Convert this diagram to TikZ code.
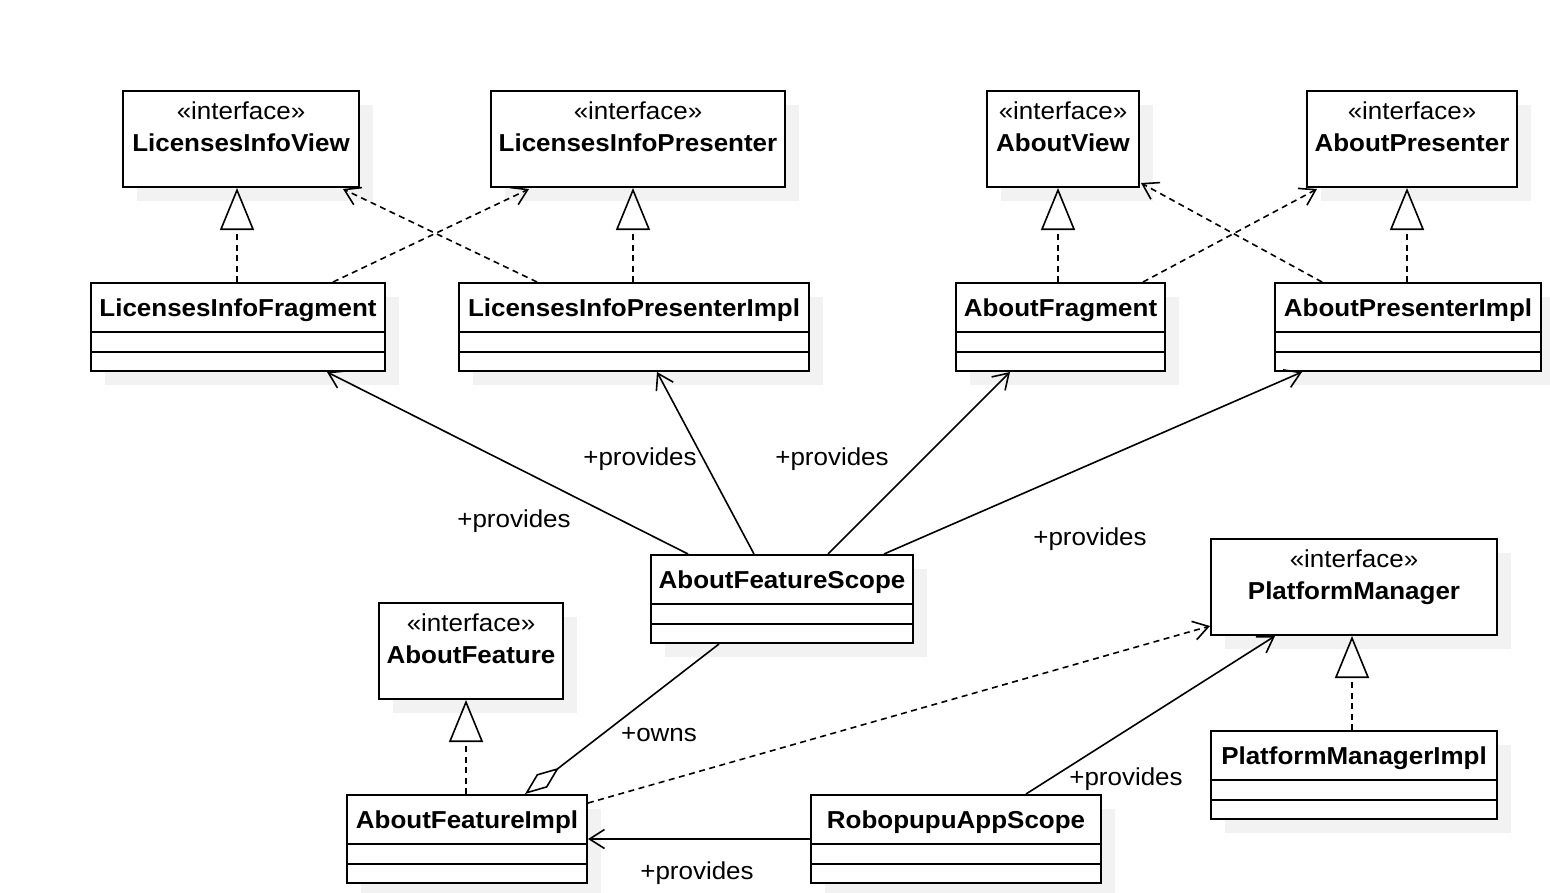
\documentclass[tikz,border=0pt]{standalone}
\usepackage{fontspec}
\setmainfont{Liberation Sans}[FakeStretch=1.06]
\usetikzlibrary{arrows.meta,calc,shadows}
\tikzset{
  box/.style={draw, line width=2pt, fill=white, anchor=north west, inner sep=0pt,
    drop shadow={fill=black!5, opacity=1, shadow xshift=14pt, shadow yshift=-14pt}},
  ibox/.style={box, minimum height=96pt},
  cbox/.style={box, minimum height=88pt},
  sepline/.style={line width=2pt},
  stereo/.style={inner sep=0pt, anchor=base, font=\fontsize{24.5pt}{30pt}\selectfont},
  cname/.style={inner sep=0pt, anchor=base, font=\fontsize{24.5pt}{30pt}\selectfont\bfseries},
  lbl/.style={inner sep=0pt, anchor=center, font=\fontsize{24.5pt}{30pt}\selectfont},
  conn/.style={line width=1.6pt},
  dashline/.style={conn, dash pattern=on 6pt off 4.5pt},
  realize/.style={dashline, -{Triangle[open, length=42pt, width=34pt, line width=1.6pt]}},
  depend/.style={dashline, -{Straight Barb[length=15pt, width=19pt, line width=1.6pt]}},
  assoc/.style={conn, -{Straight Barb[length=15pt, width=19pt, line width=1.6pt]}},
  aggr/.style={conn, -{Diamond[open, length=43pt, width=17pt, line width=1.6pt]}}
}
\begin{document}
\begin{tikzpicture}[x=1pt, y=-1pt]
\useasboundingbox[fill=white] (0,0) rectangle (1550,892);

% interfaces
\node[ibox, minimum width=236pt] (liv) at (122,90) {};
\node[stereo] (livs) at ($(liv.north)+(0,29.5)$) {«interface»};
\node[cname] (livn) at ($(liv.north)+(0,61)$) {LicensesInfoView};

\node[ibox, minimum width=294pt] (lip) at (490,90) {};
\node[stereo] (lips) at ($(lip.north)+(0,29.5)$) {«interface»};
\node[cname] (lipn) at ($(lip.north)+(0,61)$) {LicensesInfoPresenter};

\node[ibox, minimum width=152pt] (av) at (986,90) {};
\node[stereo] (avs) at ($(av.north)+(0,29.5)$) {«interface»};
\node[cname] (avn) at ($(av.north)+(0,61)$) {AboutView};

\node[ibox, minimum width=210pt] (ap) at (1306,90) {};
\node[stereo] (aps) at ($(ap.north)+(0,29.5)$) {«interface»};
\node[cname] (apn) at ($(ap.north)+(0,61)$) {AboutPresenter};

\node[ibox, minimum width=184pt] (afe) at (378,602) {};
\node[stereo] (afes) at ($(afe.north)+(0,29.5)$) {«interface»};
\node[cname] (afen) at ($(afe.north)+(0,61)$) {AboutFeature};

\node[ibox, minimum width=286pt] (pm) at (1210,538) {};
\node[stereo] (pms) at ($(pm.north)+(0,29.5)$) {«interface»};
\node[cname] (pmn) at ($(pm.north)+(0,61)$) {PlatformManager};

% classes
\foreach \nm/\x/\y/\w/\txt in {
  lif/90/282/294/LicensesInfoFragment,
  lipi/458/282/350/LicensesInfoPresenterImpl,
  af/955/282/209/AboutFragment,
  api/1274/282/266/AboutPresenterImpl,
  afs/650/554/262/AboutFeatureScope,
  afi/346/794/240/AboutFeatureImpl,
  pmi/1210/730/286/PlatformManagerImpl,
  ras/810/794/290/RobopupuAppScope}{
  \node[cbox, minimum width=\w pt] (\nm) at (\x,\y) {};
  \node[cname] (\nm n) at ($(\nm.north)+(0,34)$) {\txt};
  \draw[sepline] ($(\nm.north west)+(0,50)$) -- ($(\nm.north east)+(0,50)$);
  \draw[sepline] ($(\nm.north west)+(0,70)$) -- ($(\nm.north east)+(0,70)$);
}

% realizations
\draw[realize] ($(lif.north west)+(147,0)$) coordinate (r1) -- (r1 |- liv.south);
\draw[realize] ($(lipi.north west)+(175,0)$) coordinate (r2) -- (r2 |- lip.south);
\draw[realize] ($(af.north west)+(103,0)$) coordinate (r3) -- (r3 |- av.south);
\draw[realize] ($(api.north west)+(133,0)$) coordinate (r4) -- (r4 |- ap.south);
\draw[realize] ($(afi.north west)+(120,0)$) coordinate (r5) -- (r5 |- afe.south);
\draw[realize] ($(pmi.north west)+(142,0)$) coordinate (r6) -- (r6 |- pm.south);

% dependencies
\draw[depend] ($(lif.north west)+(243,0)$) -- ($(lip.south west)+(39,1)$);
\draw[depend] ($(lipi.north west)+(79,0)$) -- ($(liv.south west)+(221,1)$);
\draw[depend] ($(af.north west)+(188,0)$) -- ($(ap.south west)+(11,1)$);
\draw[depend] ($(api.north west)+(48,0)$) -- ($(av.south east)+(1,-5)$);
\draw[depend] ($(afi.north east)+(0,9)$) -- ($(pm.south west)+(0,-10)$);

% provides
\draw[assoc] ($(afs.north west)+(38,0)$) -- ($(lif.south west)+(237,0)$);
\draw[assoc] ($(afs.north west)+(104,0)$) -- ($(lipi.south west)+(199,0)$);
\draw[assoc] ($(afs.north west)+(178,0)$) -- ($(af.south west)+(55,0)$);
\draw[assoc] ($(afs.north west)+(234,0)$) -- ($(api.south west)+(28,0)$);
\draw[assoc] (ras.west) -- (ras.west -| afi.east);
\draw[assoc] ($(ras.north west)+(216,0)$) -- ($(pm.south west)+(65,0)$);
\draw[aggr] ($(afs.south west)+(69,0)$) -- ($(afi.north west)+(179,0)$);

% labels
\node[lbl] (l1) at (514,521) {+provides};
\node[lbl] (l2) at (640,459) {+provides};
\node[lbl] (l3) at (832,459) {+provides};
\node[lbl] (l4) at (1090,539) {+provides};
\node[lbl] (l5) at (697,873) {+provides};
\node[lbl] (l6) at (1126,779) {+provides};
\node[lbl] (l7) at (659,735) {+owns};
\end{tikzpicture}
\end{document}
